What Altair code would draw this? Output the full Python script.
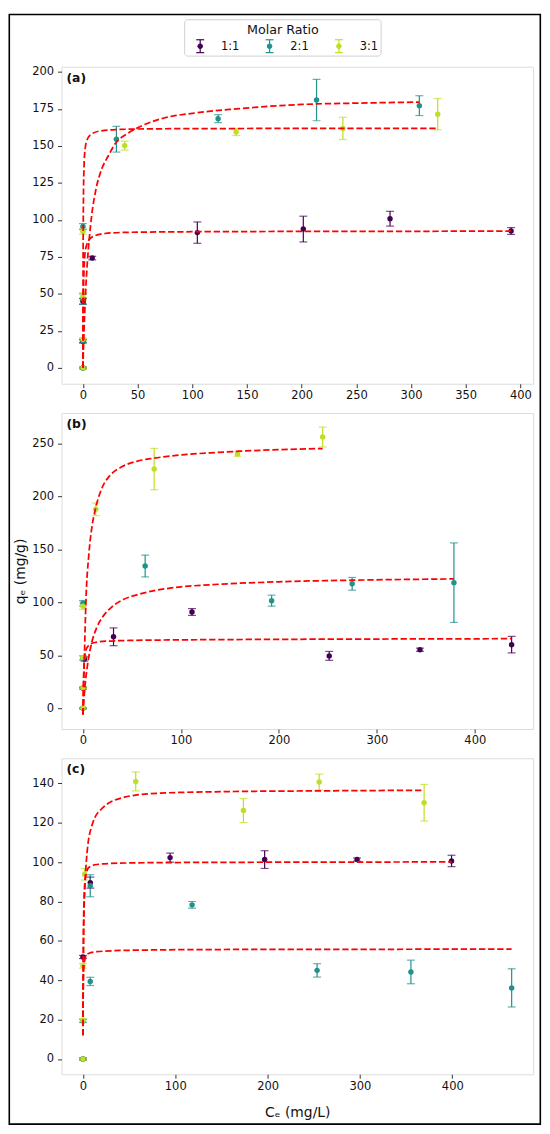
import altair as alt
import pandas as pd

RATIOS = ["1:1", "2:1", "3:1"]
COLORS = ["#440154", "#21918c", "#bddf26"]
PANEL_LABELS = ["(a)", "(b)", "(c)"]
LEGEND_TITLE = "Molar Ratio"

# ---------------- panel (a) data ----------------
a_x = [[0, 0, 0, 8.5, 104.6, 201.5, 280.8, 391.5],
       [0, 0, 0, 0, 30.6, 123.6, 213.6, 307.6],
       [0, 0, 0, 0, 38.2, 140.1, 237.7, 324.4]]
a_y = [[0, 18, 45, 74.2, 91.4, 93.8, 100.8, 92.5],
       [0, 18.3, 46.5, 95.5, 154.5, 168.4, 181.0, 177.2],
       [0, 19.4, 48.3, 92.4, 150.2, 159.4, 161.8, 171.4]]
a_e = [[0.5, 1.2, 2.0, 1.2, 7.2, 8.7, 5.0, 2.3],
       [0.5, 1.0, 3.5, 2.0, 8.7, 2.7, 14.0, 6.7],
       [0.5, 1.0, 2.5, 2.0, 3.0, 2.4, 7.5, 10.6]]
a_fx = [[0, 0.3, 0.6, 1, 2, 3.6, 6, 10, 20, 40, 100, 200, 300, 391.5],
        [0, 1, 2, 4, 6, 8, 12, 17, 23, 30, 40, 55, 75, 100, 140, 200, 260, 307.6],
        [0, 0.2, 0.5, 1, 2, 4, 8, 15, 30, 60, 120, 200, 324.4]]
a_fy = [[0, 40, 56, 66, 78, 83.5, 87, 89, 90.8, 91.6, 92.0, 92.2, 92.3, 92.4],
        [0, 25, 44, 71, 89, 103, 121, 134, 143, 152, 158, 164, 169, 172, 175, 178, 179, 179.6],
        [0, 82, 117, 136, 148, 154.5, 158, 160, 161, 161.5, 161.7, 161.8, 161.9]]

# ---------------- panel (b) data ----------------
b_x = [[0, 0, 1.5, 31.2, 111.3, 251.4, 344.0, 437.6],
       [0, 0, 0, 0, 63.5, 192.6, 274.8, 378.7],
       [0, 0, 0, 0, 13.1, 72.7, 157.8, 244.7]]
b_y = [[0, 19, 46.5, 67.4, 90.8, 49.4, 55.2, 60.0],
       [0, 19, 47.5, 99.0, 134.2, 101.5, 117.4, 118.5],
       [0, 19.3, 47.8, 96.3, 187.7, 225.7, 240.0, 255.9]]
b_e = [[0.5, 0.8, 2.0, 8.4, 3.2, 4.2, 1.5, 7.8],
       [0.5, 0.8, 2.0, 2.5, 10.3, 5.2, 6.0, 37.5],
       [0.5, 0.8, 1.5, 3.0, 6.0, 19.5, 2.2, 9.4]]
b_fx = [[0, 0.5, 1, 2, 4, 7, 12, 25, 50, 100, 200, 300, 437.6],
        [0, 2, 5, 9, 14, 20, 30, 41, 55, 73, 100, 130, 200, 275, 378.7],
        [0, 1.5, 3, 6, 9, 13, 20, 27, 40, 55, 73, 100, 130, 160, 200, 244.7]]
b_fy = [[-6, 24, 38, 50, 57, 60, 62, 63.3, 64, 64.5, 65, 65.3, 65.6],
        [-6, 20, 43, 62, 76, 86, 96, 102.5, 107, 111, 114.5, 116.5, 119.3, 120.8, 122],
        [-6, 50, 100, 145, 170, 189, 209, 219, 228, 233, 236, 239, 241, 242.5, 244, 245]]

# ---------------- panel (c) data ----------------
c_x = [[0, 0, 8.0, 94.4, 196.8, 296.9, 399.2],
       [0, 0, 7.9, 7.9, 118.2, 253.6, 355.2, 464.3],
       [0, 0, 0, 1.9, 57.2, 173.8, 255.9, 369.5]]
c_y = [[0, 51.8, 89.6, 102.3, 101.3, 101.3, 100.6],
       [0, 19.3, 88.0, 39.4, 78.3, 45.0, 44.2, 36.1],
       [0, 19.7, 47.3, 93.8, 141.0, 126.2, 140.7, 130.2]]
c_e = [[0.5, 0.8, 2.8, 2.3, 4.5, 0.8, 2.9],
       [0.5, 0.8, 5.6, 2.1, 1.7, 3.4, 6.0, 9.7],
       [0.5, 0.8, 1.2, 2.9, 4.8, 6.1, 4.0, 9.3]]
c_fx = [[0, 0.5, 1, 2, 4, 6.3, 15, 40, 100, 250, 399.2],
        [0, 0.5, 1, 3, 6, 15, 50, 150, 300, 464.3],
        [0, 0.5, 1, 2, 4.5, 10, 20, 45, 80, 150, 250, 369.5]]
c_fy = [[12, 60, 78, 89, 95, 97.3, 98.8, 99.5, 99.8, 100, 100.1],
        [12, 40, 47, 52, 53.6, 54.5, 55.2, 55.6, 55.7, 55.8],
        [12, 50, 70, 85, 105, 119, 127, 133, 135, 135.8, 136.2, 136.5]]

FONT = "DejaVu Sans"
TXT = "#111111"


def make_points(xs, ys, es):
    rows = []
    for r, xl, yl, el in zip(RATIOS, xs, ys, es):
        for xv, yv, ev in zip(xl, yl, el):
            rows.append({"ratio": r, "x": xv, "y": yv, "e": ev})
    return pd.DataFrame(rows)


def make_fit(xs, ys):
    rows = []
    for r, xl, yl in zip(RATIOS, xs, ys):
        for xv, yv in zip(xl, yl):
            rows.append({"ratio": r, "x": xv, "y": yv})
    return pd.DataFrame(rows)


cscale = alt.Scale(domain=RATIOS, range=COLORS)
ONE = pd.DataFrame({"k": [1]})


def legend_layers():
    """Manual legend box (matplotlib style) drawn above panel (a)."""
    out = []
    out.append(alt.Chart(ONE).mark_rect(
        fill="white", stroke="#d0d0d0", strokeWidth=1, cornerRadius=3).encode(
        x=alt.value(124.3), x2=alt.value(322.6), y=alt.value(-47.4), y2=alt.value(-10.7)))
    out.append(alt.Chart(pd.DataFrame({"t": [LEGEND_TITLE]})).mark_text(
        align="center", baseline="middle", fontSize=12.8, font=FONT, color=TXT).encode(
        x=alt.value(223.5), y=alt.value(-37.4), text="t:N"))
    for i, (r, col) in enumerate(zip(RATIOS, COLORS)):
        cx = 140 + 70 * i
        cy = -20.7
        out.append(alt.Chart(ONE).mark_rule(color=col, strokeWidth=1.2).encode(
            x=alt.value(cx), y=alt.value(cy - 6.5), y2=alt.value(cy + 6.5)))
        for dy in (-6.5, 6.5):
            out.append(alt.Chart(ONE).mark_rule(color=col, strokeWidth=1.2).encode(
                x=alt.value(cx - 4), x2=alt.value(cx + 4), y=alt.value(cy + dy)))
        out.append(alt.Chart(ONE).mark_point(
            filled=True, color=col, size=22, opacity=1, stroke=col, strokeWidth=1).encode(
            x=alt.value(cx), y=alt.value(cy)))
        out.append(alt.Chart(pd.DataFrame({"t": [r]})).mark_text(
            align="left", baseline="middle", fontSize=11.5, font=FONT, color=TXT).encode(
            x=alt.value(cx + 21), y=alt.value(cy + 0.5), text="t:N"))
    return out


def panel(pdf, fdf, label, xdom, ydom, xticks, yticks, height, xtitle=None, ytitle=None,
          top=False):
    xs = alt.Scale(domain=xdom, nice=False, zero=False)
    ys = alt.Scale(domain=ydom, nice=False, zero=False)
    xax = alt.Axis(values=xticks, format="d", title=xtitle, grid=False, domain=False,
                   tickSize=4, tickColor="#333333", labelPadding=2, labelFontSize=11.6,
                   labelFont=FONT, labelColor=TXT, titleFontSize=14, titleFont=FONT,
                   titleFontWeight="normal", titleColor=TXT, titlePadding=14)
    yax = alt.Axis(values=yticks, format="d", title=ytitle, grid=False, domain=False,
                   tickSize=4, tickColor="#333333", labelPadding=4, labelFontSize=11.6,
                   labelFont=FONT, labelColor=TXT, titleFontSize=14, titleFont=FONT,
                   titleFontWeight="normal", titleColor=TXT, titlePadding=4)
    X = alt.X("x:Q", scale=xs, axis=xax)
    col = alt.Color("ratio:N", scale=cscale, legend=None)
    base = alt.Chart(pdf).transform_calculate(lo="datum.y - datum.e", hi="datum.y + datum.e")
    rules = base.mark_rule(strokeWidth=1.2).encode(
        x=X, y=alt.Y("lo:Q", scale=ys, axis=yax), y2="hi:Q", color=col)
    cap_lo = base.mark_tick(orient="horizontal", size=8, thickness=1.2).encode(
        x=X, y=alt.Y("lo:Q", scale=ys, axis=yax), color=col)
    cap_hi = base.mark_tick(orient="horizontal", size=8, thickness=1.2).encode(
        x=X, y=alt.Y("hi:Q", scale=ys, axis=yax), color=col)
    pts = base.mark_circle(size=30, opacity=1).encode(
        x=X, y=alt.Y("y:Q", scale=ys, axis=yax), color=col)
    curves = alt.Chart(fdf).mark_line(color="#ff0000", strokeWidth=1.75, strokeDash=[6.4, 2.8],
                                      interpolate="monotone").encode(
        x=X, y=alt.Y("y:Q", scale=ys, axis=yax), detail="ratio:N")
    txt = alt.Chart(pd.DataFrame({"t": [label]})).mark_text(
        align="left", baseline="top", fontWeight="bold", fontSize=12.5, font=FONT,
        color="#111111").encode(x=alt.value(5), y=alt.value(5), text="t:N")
    layers = [rules, cap_lo, cap_hi, pts, curves, txt]
    if top:
        frame = alt.Chart(ONE).mark_rect(
            fillOpacity=0, stroke="black", strokeWidth=1.6).encode(
            x=alt.value(-52.7), x2=alt.value(483.3), y=alt.value(-52.7), y2=alt.value(1067.3))
        layers.append(frame)
        layers.extend(legend_layers())
    return alt.layer(*layers).properties(width=476, height=height)


pa = panel(make_points(a_x, a_y, a_e), make_fit(a_fx, a_fy), PANEL_LABELS[0],
           [-19.6, 411.6], [-10.7, 203.5],
           list(range(0, 401, 50)), list(range(0, 201, 25)), 320, top=True)
pb = panel(make_points(b_x, b_y, b_e), make_fit(b_fx, b_fy), PANEL_LABELS[1],
           [-21.9, 459.5], [-19.6, 278.6],
           list(range(0, 401, 100)), list(range(0, 251, 50)), 319, ytitle="qₑ (mg/g)")
pc = panel(make_points(c_x, c_y, c_e), make_fit(c_fx, c_fy), PANEL_LABELS[2],
           [-23.2, 487.5], [-7.8, 152.8],
           list(range(0, 401, 100)), list(range(0, 141, 20)), 319, xtitle="Cₑ (mg/L)")

chart = alt.vconcat(pa, pb, pc, spacing=29.5, bounds="flush").properties(
    padding=0
).configure_view(stroke="#555555", strokeWidth=1.1).configure(
    font=FONT, background="white")

chart.save("out.html", embed_options={"renderer": "svg", "actions": False})
